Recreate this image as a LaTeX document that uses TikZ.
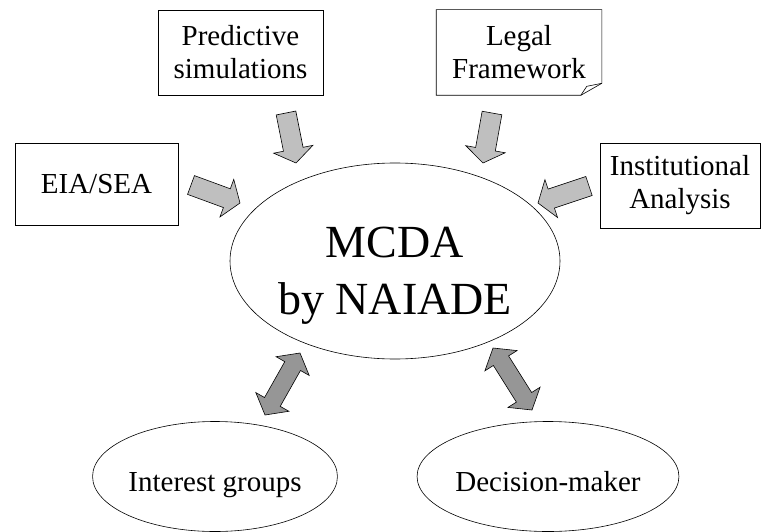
\documentclass[tikz,border=0pt]{standalone}
\usepackage{fontspec}
\setmainfont{Liberation Serif}
\usepackage{xcolor}
\usetikzlibrary{positioning, calc, shapes.geometric}

\definecolor{inputgray}{gray}{0.75}
\definecolor{dualgray}{gray}{0.59}

\tikzset{
  infobox/.style={draw, rectangle, align=center, inner sep=0pt,
    font=\fontsize{29}{33}\selectfont, minimum width=165pt, minimum height=85pt},
  actor/.style={draw, ellipse, inner sep=0pt, font=\fontsize{29}{33}\selectfont,
    minimum height=110pt, text height=36pt, text depth=6pt},
  inarrow/.style={draw, fill=inputgray, line width=0.6pt},
  twoway/.style={draw, fill=dualgray, line width=0.6pt},
}

% block arrow from tail #1 to tip #2
\newcommand{\inputarrow}[2]{%
  \coordinate (neck) at ($(#2)!14pt!(#1)$);
  \draw[inarrow] ($(#1)!10pt!90:(#2)$) -- ($(neck)!10pt!90:(#2)$)
    -- ($(neck)!20pt!90:(#2)$) -- (#2) -- ($(neck)!20pt!-90:(#2)$)
    -- ($(neck)!10pt!-90:(#2)$) -- ($(#1)!10pt!-90:(#2)$) -- cycle;
}
% block arrow with heads at both ends
\newcommand{\twowayarrow}[2]{%
  \coordinate (neckA) at ($(#1)!15pt!(#2)$);
  \coordinate (neckB) at ($(#2)!15pt!(#1)$);
  \draw[twoway] (#1) -- ($(neckA)!19pt!90:(#2)$) -- ($(neckA)!9pt!90:(#2)$)
    -- ($(neckB)!9pt!90:(#2)$) -- ($(neckB)!19pt!90:(#2)$) -- (#2)
    -- ($(neckB)!19pt!-90:(#2)$) -- ($(neckB)!9pt!-90:(#2)$)
    -- ($(neckA)!9pt!-90:(#2)$) -- ($(neckA)!19pt!-90:(#2)$) -- cycle;
}

\begin{document}
\begin{tikzpicture}[x=1pt, y=-1pt, line width=0.6pt]
    \useasboundingbox (0,0) rectangle (762,532);

    % Inputs
    \node[infobox] (pred) at (240.5,52.5) {Predictive\\simulations};
    \node[infobox, draw=none] (legal) at (519,52.5) {Legal\\Framework};
    \draw (legal.north west) -- (legal.north east) -- ([yshift=12pt]legal.south east)
        -- ([xshift=-21pt]legal.south east) -- (legal.south west) -- cycle;
    \draw ([xshift=-21pt]legal.south east) -- ([xshift=-15pt,yshift=9pt]legal.south east)
        -- ([yshift=12pt]legal.south east);
    \node[infobox, minimum width=163pt, minimum height=82pt] (eia) at (96.5,184) {EIA/SEA};
    \node[infobox, minimum width=160pt] (inst) at (680,185.5) {Institutional\\Analysis};

    % Central method
    \node[draw, ellipse, minimum width=330pt, minimum height=196pt] (mcda) at (395,261) {};
    \node[align=center, font=\fontsize{46}{57}\selectfont] (mcdatext) at (395,276) {MCDA\\by NAIADE};

    % Actors
    \node[actor, minimum width=240pt] (groups) at (215,476.5) {Interest groups};
    \node[actor, minimum width=232pt] (dm) at (548,476.5) {Decision-maker};

    % Arrow ends
    \coordinate (pred-tail) at (286,113);
    \coordinate (pred-tip) at (296,163);
    \coordinate (legal-tail) at (492,113);
    \coordinate (legal-tip) at (483,163);
    \coordinate (eia-tail) at (191,185);
    \coordinate (eia-tip) at (240,203);
    \coordinate (inst-tail) at (589,186);
    \coordinate (inst-tip) at (538,203);
    \coordinate (groups-top) at (300,353);
    \coordinate (groups-end) at (265,415);
    \coordinate (dm-top) at (493,348);
    \coordinate (dm-end) at (532,410);

    \inputarrow{pred-tail}{pred-tip}
    \inputarrow{legal-tail}{legal-tip}
    \inputarrow{eia-tail}{eia-tip}
    \inputarrow{inst-tail}{inst-tip}

    \twowayarrow{groups-top}{groups-end}
    \twowayarrow{dm-top}{dm-end}
\end{tikzpicture}
\end{document}
